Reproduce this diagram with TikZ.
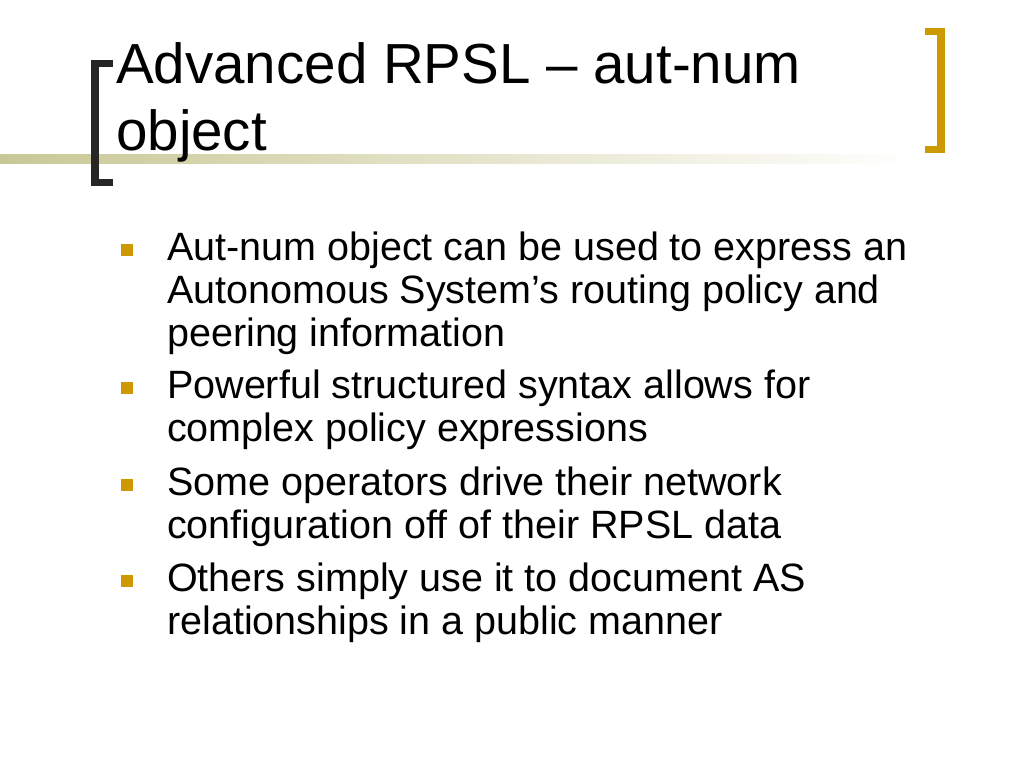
\documentclass[tikz,border=0pt]{standalone}
\usepackage{fontspec}
\setmainfont{Liberation Sans}
\definecolor{gold}{HTML}{CC9900}
\definecolor{olive}{HTML}{C8C896}
\begin{document}
\begin{tikzpicture}[x=1pt,y=-1pt,
  body/.style={anchor=base west,inner sep=0pt,font=\fontsize{39.5}{44}\selectfont},
  ttl/.style={anchor=base west,inner sep=0pt,font=\fontsize{56.5}{60}\selectfont},
  bul/.style={fill=gold,minimum size=12pt,inner sep=0pt}]
\useasboundingbox (0,0) rectangle (1024,768);
\fill[white] (0,0) rectangle (1024,768);
\shade[left color=olive,right color=white] (0,154) rectangle (920,163);
\fill[black!85] (91,60) rectangle (99,186);
\fill[black!85] (91,60) rectangle (113,67);
\fill[black!85] (91,179) rectangle (113,186);
\fill[gold] (937,28) rectangle (945,153);
\fill[gold] (925,28) rectangle (945,35);
\fill[gold] (925,146) rectangle (945,153);
\node[ttl] (t1) at (116,83) {Advanced RPSL – aut-num};
\node[ttl] (t2) at (116,150) {object};
\foreach \y/\t [count=\i] in {260/Aut-num object can be used to express an,303/Autonomous System’s routing policy and,346/peering information,398/Powerful structured syntax allows for,441/complex policy expressions,495/Some operators drive their network,538/configuration off of their RPSL data,591/Others simply use it to document AS,634/relationships in a public manner}
  \node[body] (l\i) at (167,\y) {\t};
\foreach \y [count=\i] in {250,388,485,581}
  \node[bul] (b\i) at (127,\y) {};
\end{tikzpicture}
\end{document}
